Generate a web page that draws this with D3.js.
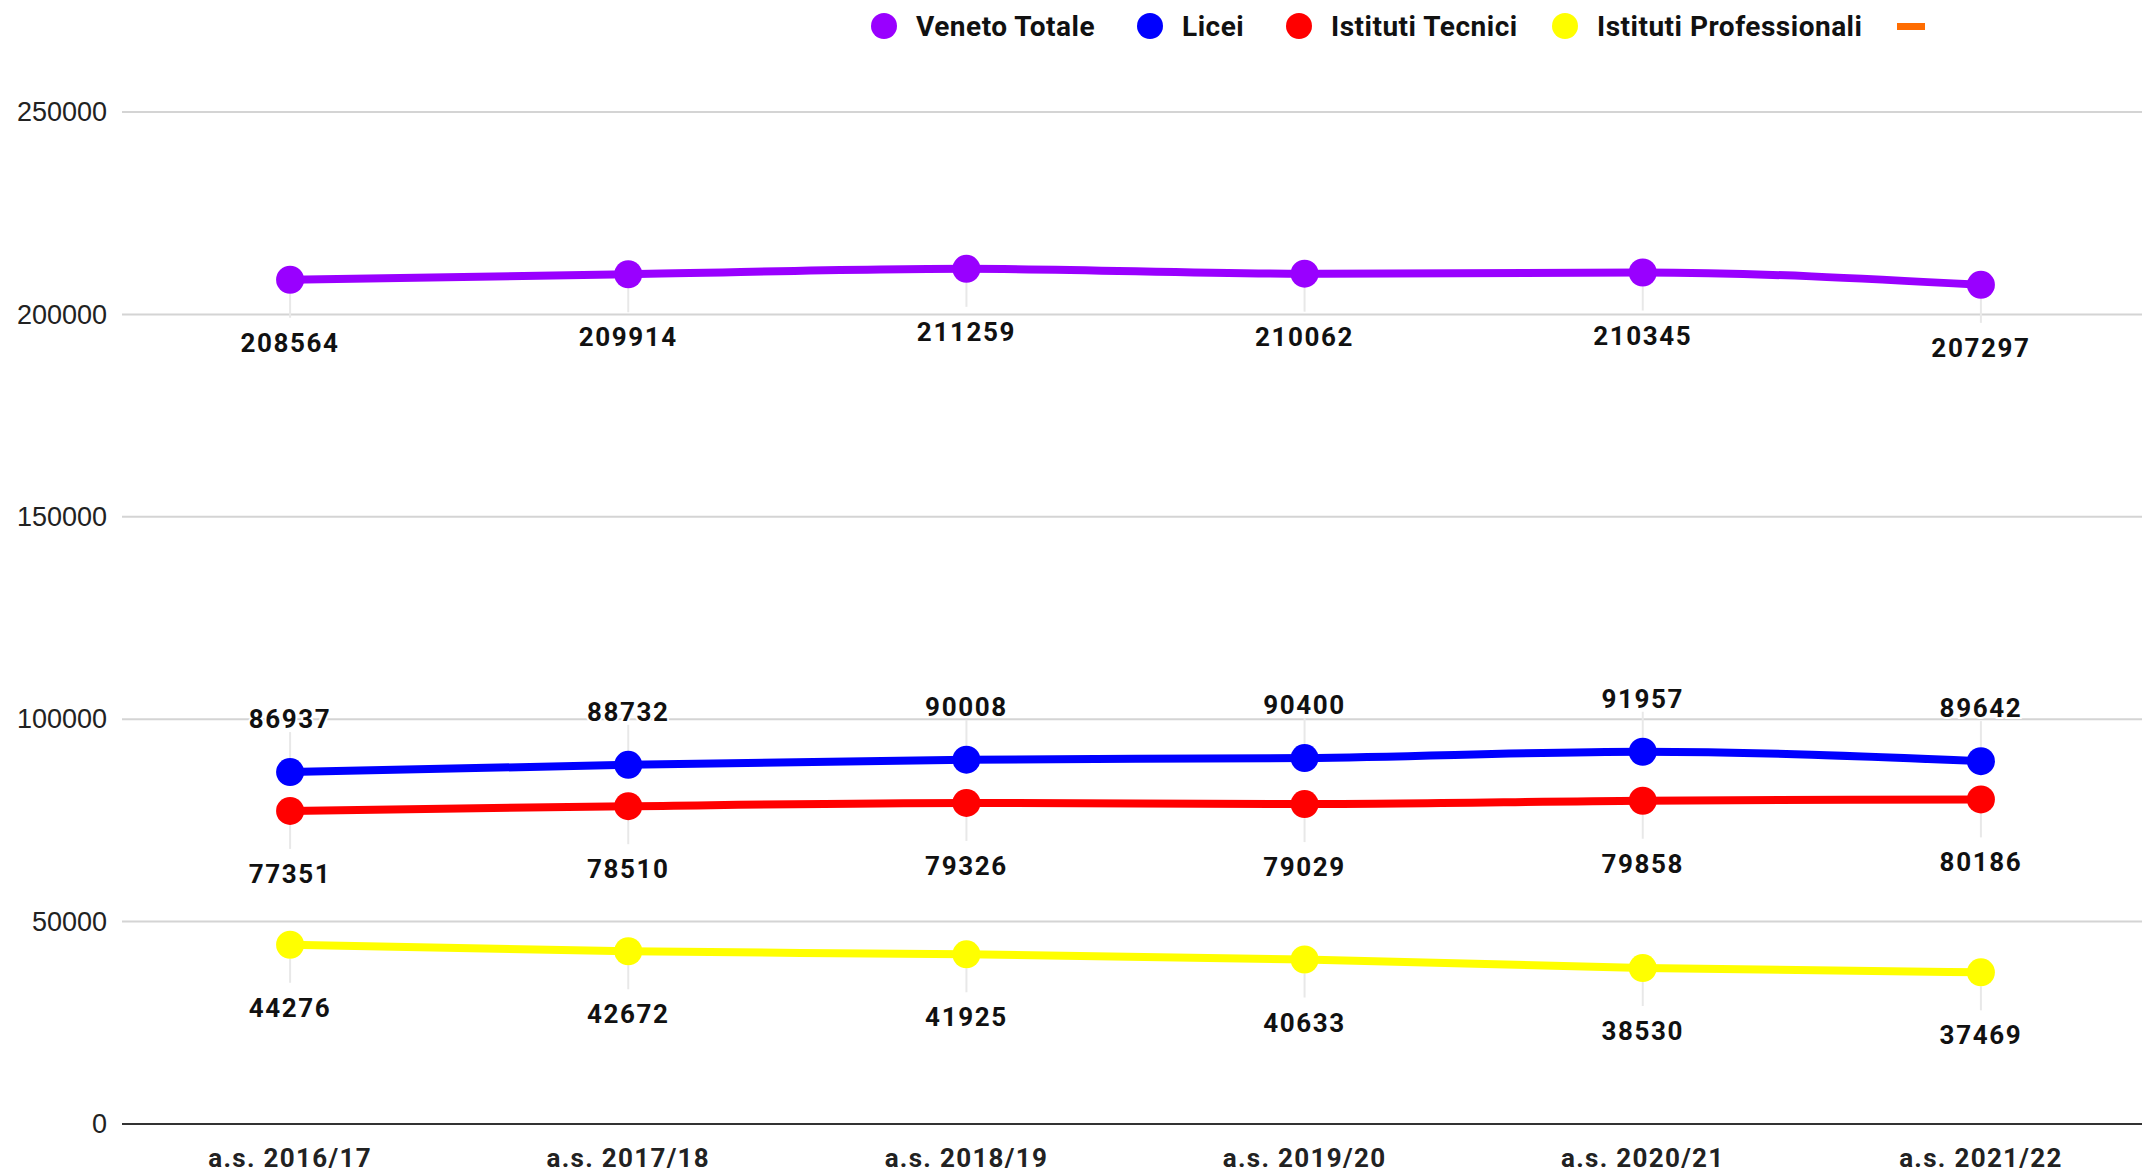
<!DOCTYPE html>
<html>
<head>
<meta charset="utf-8">
<script src="https://cdnjs.cloudflare.com/ajax/libs/d3/7.8.5/d3.min.js"></script>
<style>
  body { margin: 0; background: #fff; }
  svg { display: block; }
</style>
</head>
<body>
<script>
var years = ['a.s. 2016/17', 'a.s. 2017/18', 'a.s. 2018/19', 'a.s. 2019/20', 'a.s. 2020/21', 'a.s. 2021/22'];
var venetoTotale = [208564, 209914, 211259, 210062, 210345, 207297];
var licei = [86937, 88732, 90008, 90400, 91957, 89642];
var istitutiTecnici = [77351, 78510, 79326, 79029, 79858, 80186];
var istitutiProfessionali = [44276, 42672, 41925, 40633, 38530, 37469];
var yTicks = [0, 50000, 100000, 150000, 200000, 250000];

var seriesNames = ['Veneto Totale', 'Licei', 'Istituti Tecnici', 'Istituti Professionali'];
var seriesValues = [venetoTotale, licei, istitutiTecnici, istitutiProfessionali];
var seriesColors = ['#9900ff', '#0000ff', '#ff0000', '#ffff00'];
// label above (-1) or below (1) the point
var labelSide = [1, -1, 1, 1];

var width = 2142, height = 1172;

var svg = d3.select('body').append('svg')
  .attr('width', width)
  .attr('height', height);

var x = d3.scaleBand()
  .domain(years)
  .range([121, 2150]);

var y = d3.scaleLinear()
  .domain([0, 250000])
  .range([1124, 112]);

function cx(i) { return x(years[i]) + x.bandwidth() / 2; }

// gridlines
svg.append('g')
  .selectAll('line')
  .data(yTicks.filter(function(d) { return d > 0; }))
  .join('line')
  .attr('x1', 122)
  .attr('x2', width)
  .attr('y1', function(d) { return y(d); })
  .attr('y2', function(d) { return y(d); })
  .style('stroke', '#d4d4d4')
  .style('stroke-width', 2);

// y axis
var yAxis = svg.append('g')
  .attr('transform', 'translate(122,0)')
  .call(d3.axisLeft(y).tickValues(yTicks).tickSize(0).tickPadding(15).tickFormat(d3.format('d')));
yAxis.select('.domain').remove();
yAxis.selectAll('text')
  .style('font-family', 'Liberation Sans, Arial, sans-serif')
  .style('font-size', '27px')
  .style('fill', '#222');

// x axis
var xAxis = svg.append('g')
  .attr('transform', 'translate(0,1124)')
  .call(d3.axisBottom(x).tickSize(0).tickPadding(25));
xAxis.select('.domain')
  .attr('d', 'M122,0H' + width)
  .style('stroke', '#333')
  .style('stroke-width', 2);
xAxis.selectAll('text')
  .style('font-family', 'Roboto, sans-serif')
  .style('font-weight', 'bold')
  .style('font-size', '26px')
  .style('letter-spacing', '1.3px')
  .style('fill', '#222');

var line = d3.line()
  .x(function(d, i) { return cx(i); })
  .y(function(d) { return y(d); })
  .curve(d3.curveMonotoneX);

seriesValues.forEach(function(values, s) {
  var g = svg.append('g');

  // leader lines from point to label
  g.selectAll('line.leader')
    .data(values)
    .join('line')
    .attr('class', 'leader')
    .attr('x1', function(d, i) { return cx(i); })
    .attr('x2', function(d, i) { return cx(i); })
    .attr('y1', function(d) { return y(d) + labelSide[s] * 14; })
    .attr('y2', function(d) { return y(d) + labelSide[s] * (labelSide[s] > 0 ? 38 : 40); })
    .style('stroke', '#e8e8e8')
    .style('stroke-width', 2);

  g.append('path')
    .datum(values)
    .attr('d', line)
    .style('fill', 'none')
    .style('stroke', seriesColors[s])
    .style('stroke-width', 8)
    .style('stroke-linejoin', 'round');

  g.selectAll('circle')
    .data(values)
    .join('circle')
    .attr('cx', function(d, i) { return cx(i); })
    .attr('cy', function(d) { return y(d); })
    .attr('r', 14)
    .style('fill', seriesColors[s]);

  g.selectAll('text')
    .data(values)
    .join('text')
    .attr('x', function(d, i) { return cx(i); })
    .attr('y', function(d) { return y(d) + (labelSide[s] > 0 ? 72 : -44); })
    .attr('text-anchor', 'middle')
    .style('font-family', 'Roboto, sans-serif')
    .style('font-weight', 'bold')
    .style('font-size', '26px')
    .style('letter-spacing', '1.6px')
    .style('fill', '#111')
    .style('stroke', '#fff')
    .style('stroke-width', 4)
    .style('paint-order', 'stroke')
    .text(function(d) { return d; });
});

// legend
var legendX = [884, 1150, 1299, 1565];
var legend = svg.append('g');
seriesNames.forEach(function(name, s) {
  legend.append('circle')
    .attr('cx', legendX[s])
    .attr('cy', 26)
    .attr('r', 13)
    .style('fill', seriesColors[s]);
  legend.append('text')
    .attr('x', legendX[s] + 32)
    .attr('y', 36)
    .style('font-family', 'Roboto, sans-serif')
    .style('font-weight', 'bold')
    .style('font-size', '28px')
    .style('letter-spacing', '0.5px')
    .style('fill', '#111')
    .text(name);
});
legend.append('rect')
  .attr('x', 1897)
  .attr('y', 23)
  .attr('width', 28)
  .attr('height', 7)
  .style('fill', '#ff6d01');
</script>
</body>
</html>
